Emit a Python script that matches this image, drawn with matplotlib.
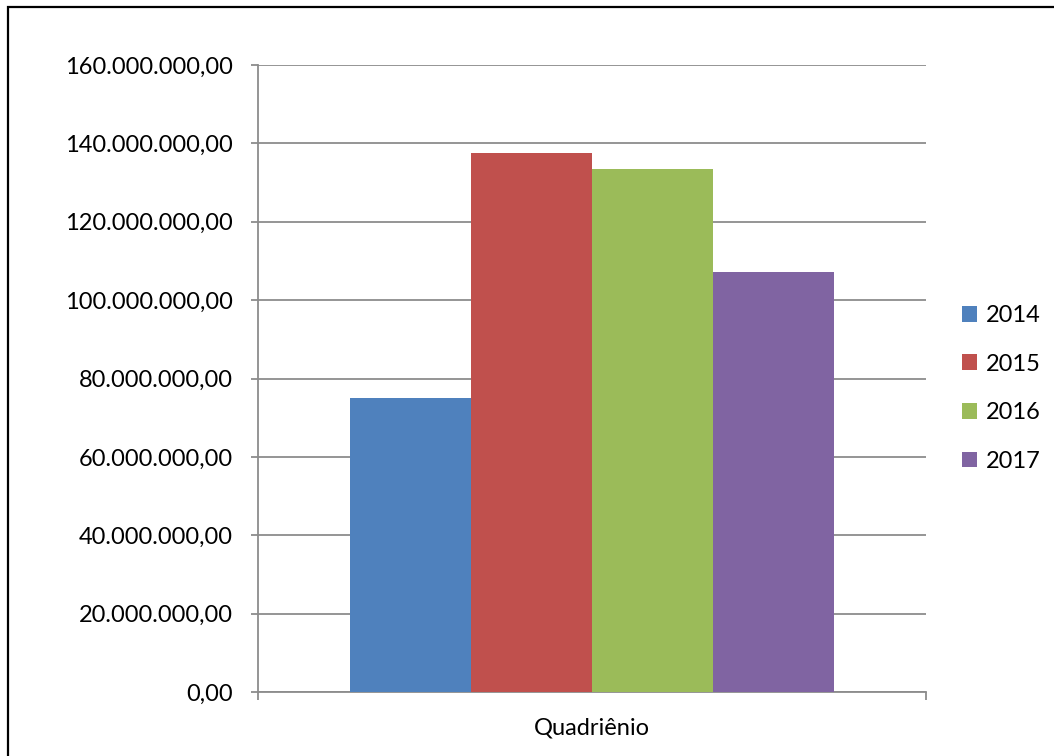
import matplotlib
matplotlib.use("Agg")
import matplotlib.pyplot as plt
from matplotlib.patches import Rectangle
from matplotlib.ticker import FuncFormatter, MultipleLocator

category = "Quadriênio"
years = ["2014", "2015", "2016", "2017"]
values = [75_000_000, 137_500_000, 133_400_000, 107_200_000]
colors = ["#4F81BD", "#C0504D", "#9BBB59", "#8064A2"]

plt.rcParams["font.family"] = ["Lato", "DejaVu Sans"]

W, H = 1054, 756
fig = plt.figure(figsize=(W / 100, H / 100), dpi=100)
ax = fig.add_axes([258 / W, 1 - 692 / H, (926 - 258) / W, (692 - 65) / H])

bw = 0.181
n = len(years)
for i, (y, v, c) in enumerate(zip(years, values, colors)):
    x = (i - (n - 1) / 2) * bw
    ax.bar(x, v, width=bw, color=c, label=y, zorder=3, linewidth=0)

ax.set_xlim(-0.5, 0.5)
ax.set_ylim(0, 160_000_000)
ax.yaxis.set_major_locator(MultipleLocator(20_000_000))


def fmt(v, pos):
    s = f"{v:,.2f}"
    return s.replace(",", "X").replace(".", ",").replace("X", ".")


ax.yaxis.set_major_formatter(FuncFormatter(fmt))
ax.grid(axis="y", color="#8C8C8C", linewidth=1.3, zorder=0)
ax.set_axisbelow(True)
for s in ["top", "right"]:
    ax.spines[s].set_visible(False)
ax.spines["left"].set_color("#8C8C8C")
ax.spines["bottom"].set_color("#8C8C8C")
ax.spines["left"].set_linewidth(1.3)
ax.spines["bottom"].set_linewidth(1.3)
ax.tick_params(axis="y", labelsize=17, colors="#8C8C8C", labelcolor="black",
               length=5, width=1.3, pad=13)
ax.set_xticks([-0.5, 0.5])
ax.set_xticklabels(["", ""])
ax.tick_params(axis="x", length=6, width=1.3, colors="#8C8C8C", direction="out")
ax.text(0, -0.058, category, transform=ax.get_xaxis_transform(),
        ha="center", va="center", fontsize=17)

leg = ax.legend(loc="upper left", bbox_to_anchor=(962 / W, 1 - 305 / H),
                bbox_transform=fig.transFigure, frameon=False, fontsize=17,
                handlelength=0.65, handleheight=0.65, handletextpad=0.35,
                labelspacing=1.17, borderpad=0, borderaxespad=0)

fig.patches.append(Rectangle((8 / W, -0.05), 1.1, 1 - 7 / H + 0.05,
                             transform=fig.transFigure, fill=False,
                             edgecolor="black", linewidth=1.6))

fig.savefig("out.png", dpi=100)
